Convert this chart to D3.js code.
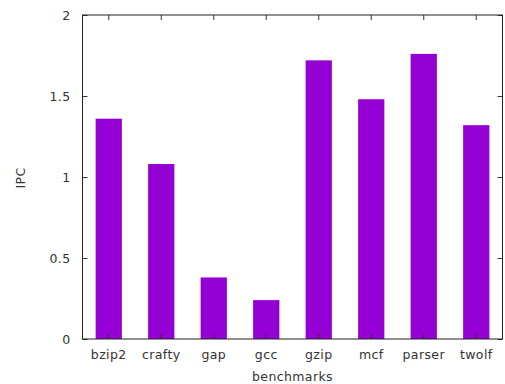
<!DOCTYPE html>
<html><head><meta charset="utf-8">
<script src="https://cdn.jsdelivr.net/npm/d3@7"></script>
<style>body{margin:0;background:#fff}svg{display:block}text{font-family:"DejaVu Sans",sans-serif;font-size:12.5px;letter-spacing:0.4px;fill:#333}</style>
</head><body>
<script>
const categories = ["bzip2","crafty","gap","gcc","gzip","mcf","parser","twolf"];
const ipc = [1.36,1.08,0.38,0.24,1.72,1.48,1.76,1.32];
const yTicks = [0,0.5,1,1.5,2];
const yTickLabels = ["0","0.5","1","1.5","2"];

const W=505,H=384;
const m={l:82.5,r:2.5,t:15,b:45};
const svg=d3.select("body").append("svg").attr("width",W).attr("height",H);
const x=d3.scaleBand().domain(categories).range([m.l,W-m.r]).paddingInner(0.5).paddingOuter(0.25);
const y=d3.scaleLinear().domain([0,2]).range([H-m.b,m.t]);

svg.append("g").selectAll("rect").data(categories).join("rect")
  .attr("x",d=>x(d)).attr("width",x.bandwidth())
  .attr("y",(d,i)=>y(ipc[i])).attr("height",(d,i)=>y(0)-y(ipc[i]))
  .attr("fill","#9400d3");

const tickLen=5;
const gl=svg.append("g").attr("transform",`translate(${m.l},0)`)
  .call(d3.axisLeft(y).tickValues(yTicks).tickFormat((d,i)=>yTickLabels[i]).tickSize(-tickLen).tickPadding(12));
const gr=svg.append("g").attr("transform",`translate(${W-m.r},0)`)
  .call(d3.axisRight(y).tickValues(yTicks).tickFormat("").tickSize(-tickLen));
const gb=svg.append("g").attr("transform",`translate(0,${H-m.b})`)
  .call(d3.axisBottom(x).tickSize(-tickLen).tickPadding(11));
const gt=svg.append("g").attr("transform",`translate(0,${m.t})`)
  .call(d3.axisTop(x).tickFormat("").tickSize(-tickLen));
[gl,gr,gb,gt].forEach(g=>{g.select(".domain").remove();g.selectAll("line").attr("stroke","#333");g.selectAll("text").attr("fill","#333").style("font-size","12.5px").style("font-family","DejaVu Sans, sans-serif").style("letter-spacing","0.4px");});
gb.selectAll("text").attr("dy","0.71em");

svg.append("rect").attr("x",m.l).attr("y",m.t).attr("width",W-m.r-m.l).attr("height",H-m.b-m.t)
  .attr("fill","none").attr("stroke","#222").attr("stroke-width",1);

svg.append("text").attr("x",(m.l+W-m.r)/2).attr("y",381).attr("text-anchor","middle").text("benchmarks");
svg.append("text").attr("transform",`translate(25,178) rotate(-90)`).attr("text-anchor","middle").text("IPC");
</script>
</body></html>
